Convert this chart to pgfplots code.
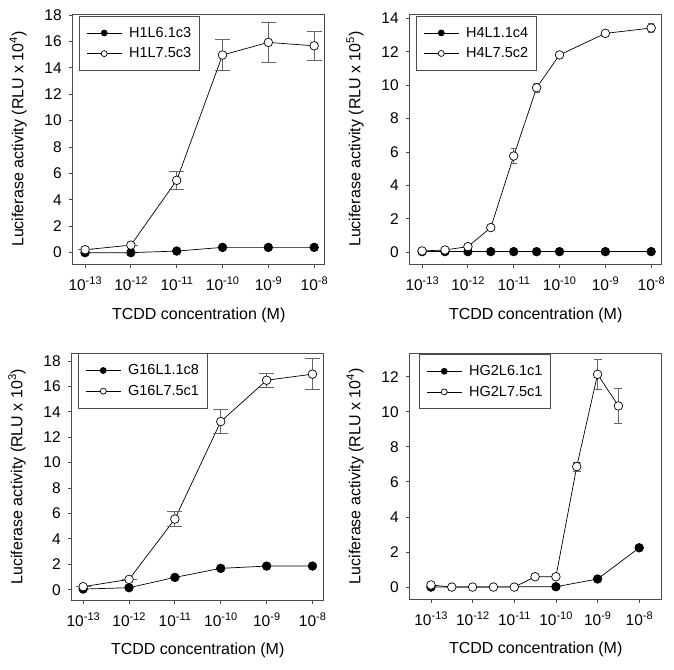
\documentclass[border=0pt]{standalone}
\usepackage{fontspec}
\setmainfont{Liberation Sans}
\usepackage{pgfplots}
\pgfplotsset{compat=1.18}
\definecolor{frame}{gray}{0.3}
\definecolor{ebar}{gray}{0.4}
\newcommand{\tf}{\fontsize{15.5}{18}\selectfont}
\newcommand{\lf}{\fontsize{14.5}{17}\selectfont}
\newcommand{\sx}[1]{\tf 10\raisebox{0.42em}{\fontsize{11}{12}\selectfont #1}}
\pgfplotsset{
  panel/.style={
    scale only axis, width=252pt,
    axis line style={frame, line width=0.8pt},
    tick style={frame, line width=0.8pt},
    tick align=outside, major tick length=4pt,
    xtick pos=bottom, ytick pos=left,
    xtick={-13,-12,-11,-10,-9,-8},
    xticklabels={\sx{-13},\sx{-12},\sx{-11},\sx{-10},\sx{-9},\sx{-8}},
    xticklabel style={yshift=-5pt},
    yticklabel style={xshift=-3.5pt},
    label style={font=\fontsize{16}{19}\selectfont},
    xlabel={TCDD concentration (M)},
    xlabel style={at={(axis description cs:0.5,-0.205)}, anchor=center},
    ylabel style={at={(axis description cs:-0.217,0.5)}, anchor=center, rotate=0},
    legend cell align=left,
    legend style={at={(0.025,0.993)}, anchor=north west, draw=frame, line width=0.8pt,
      inner xsep=7pt, inner ysep=10pt, row sep=7pt, column sep=6pt,
      nodes={inner sep=1pt}},
    legend image code/.code={\draw[mark repeat=2,mark phase=2,##1,mark size=3pt] plot coordinates {(0pt,0pt) (17.5pt,0pt) (35pt,0pt)};},
    clip=false,
  },
  filled/.style={black, line width=0.7pt, mark=*, mark size=4.3pt, mark options={fill=black, line width=0.7pt}},
  open/.style={black, line width=0.7pt, mark=*, mark size=4.3pt, mark options={fill=white, line width=0.7pt},
    error bars/.cd, y dir=both, y explicit,
    error bar style={ebar, line width=0.8pt},
    error mark options={rotate=90, mark size=#1, ebar, line width=0.8pt}},
  open/.default=7.5pt,
}
\begin{document}
\begin{tikzpicture}
\path (0pt,0pt) rectangle (674pt,-669pt);
% Panel 1
\begin{axis}[panel, height=250pt, at={(72.7pt,-14pt)}, anchor=north west,
  xmin=-13.27, xmax=-7.77, ymin=-0.86, ymax=18.08, ytick={0,2,...,18},
  yticklabels={\tf 0,\tf 2,\tf 4,\tf 6,\tf 8,\tf 10,\tf 12,\tf 14,\tf 16,\tf 18},
  ylabel={Luciferase activity (RLU x 10\textsuperscript{4})}]
\addplot[filled] coordinates {(-13,0.0) (-12,0.0) (-11,0.12) (-10,0.4) (-9,0.4) (-8,0.4)};
\addlegendentry{\lf H1L6.1c3}
\addplot[open] coordinates {(-13,0.22) +- (0,0) (-12,0.57) +- (0,0) (-11,5.48) +- (0,0.68) (-10,14.97) +- (0,1.19) (-9,15.93) +- (0,1.48) (-8,15.67) +- (0,1.1)};
\addlegendentry{\lf H1L7.5c3}
\end{axis}
% Panel 2
\begin{axis}[panel, height=250pt, at={(409.7pt,-14pt)}, anchor=north west,
  xmin=-13.27, xmax=-7.77, ymin=-0.7, ymax=14.26, ytick={0,2,...,14},
  yticklabels={\tf 0,\tf 2,\tf 4,\tf 6,\tf 8,\tf 10,\tf 12,\tf 14},
  ylabel={Luciferase activity (RLU x 10\textsuperscript{5})}]
\addplot[filled] coordinates {(-13,0.04) (-12.5,0.04) (-12,0.04) (-11.5,0.04) (-11,0.04) (-10.5,0.04) (-10,0.04) (-9,0.04) (-8,0.04)};
\addlegendentry{\lf H4L1.1c4}
\addplot[open=3pt] coordinates {(-13,0.08) +- (0,0) (-12.5,0.14) +- (0,0) (-12,0.34) +- (0,0) (-11.5,1.48) +- (0,0) (-11,5.76) +- (0,0.45) (-10.5,9.85) +- (0,0.28) (-10,11.81) +- (0,0) (-9,13.1) +- (0,0) (-8,13.42) +- (0,0.25)};
\addlegendentry{\lf H4L7.5c2}
\end{axis}
% Panel 3
\begin{axis}[panel, height=246.7pt, at={(71.7pt,-353.3pt)}, anchor=north west,
  xmin=-13.25, xmax=-7.755, ymin=-0.81, ymax=18.6, ytick={0,2,...,18},
  yticklabels={\tf 0,\tf 2,\tf 4,\tf 6,\tf 8,\tf 10,\tf 12,\tf 14,\tf 16,\tf 18},
  legend style={at={(0.025,1.0)}},
  ylabel={Luciferase activity (RLU x 10\textsuperscript{3})}]
\addplot[filled] coordinates {(-13,0.05) (-12,0.16) (-11,0.97) (-10,1.68) (-9,1.86) (-8,1.86)};
\addlegendentry{\lf G16L1.1c8}
\addplot[open] coordinates {(-13,0.24) +- (0,0) (-12,0.81) +- (0,0) (-11,5.56) +- (0,0.58) (-10,13.23) +- (0,0.97) (-9,16.48) +- (0,0.57) (-8,16.96) +- (0,1.23)};
\addlegendentry{\lf G16L7.5c1}
\end{axis}
% Panel 4
\begin{axis}[panel, height=245.7pt, at={(409.7pt,-353.3pt)}, anchor=north west,
  xmin=-13.51, xmax=-7.46, ymin=-0.68, ymax=13.33, ytick={0,2,...,12},
  yticklabels={\tf 0,\tf 2,\tf 4,\tf 6,\tf 8,\tf 10,\tf 12},
  legend style={at={(0.037,0.997)}},
  ylabel={Luciferase activity (RLU x 10\textsuperscript{4})}]
\addplot[filled, error bars/.cd, y dir=both, y explicit, error bar style={ebar, line width=0.8pt},
    error mark options={rotate=90, mark size=4pt, ebar, line width=0.8pt}]
  coordinates {(-13,0.0) +- (0,0) (-10,0.02) +- (0,0) (-9,0.46) +- (0,0) (-8,2.24) +- (0,0.15)};
\addlegendentry{\lf HG2L6.1c1}
\addplot[open=4pt] coordinates {(-13,0.12) +- (0,0.15) (-12.5,0.0) +- (0,0) (-12,0.0) +- (0,0) (-11.5,0.0) +- (0,0) (-11,0.0) +- (0,0) (-10.5,0.59) +- (0,0) (-10,0.59) +- (0,0) (-9.5,6.87) +- (0,0.25) (-9,12.13) +- (0,0.86) (-8.5,10.33) +- (0,1.0)};
\addlegendentry{\lf HG2L7.5c1}
\end{axis}
\end{tikzpicture}
\end{document}
